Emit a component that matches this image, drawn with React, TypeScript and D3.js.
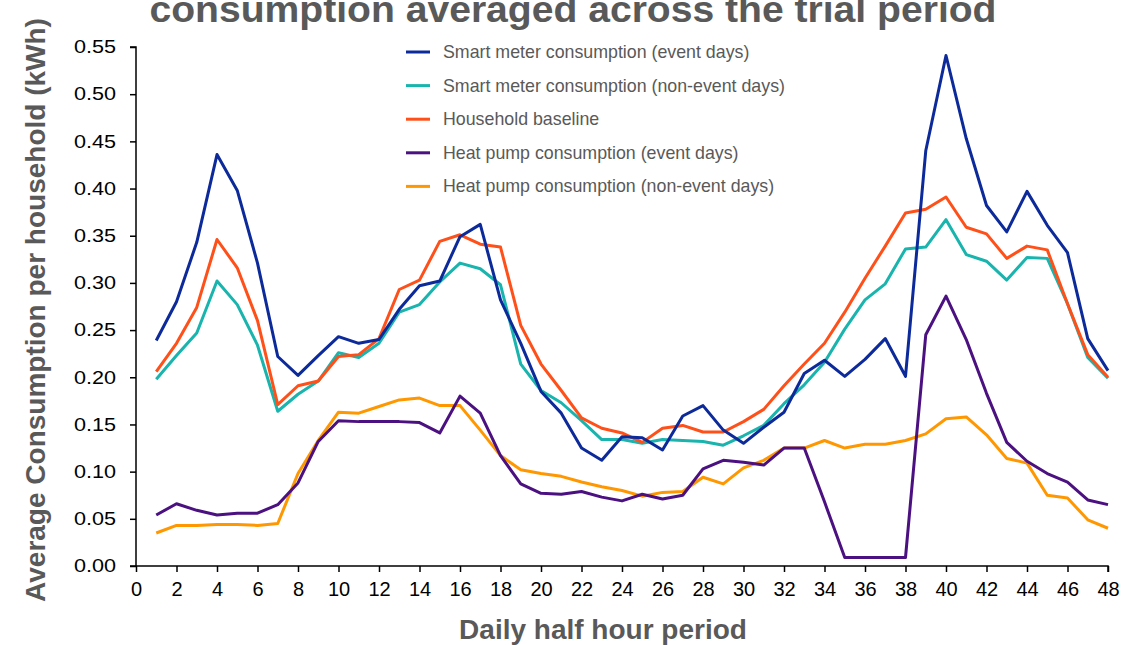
import React, { useEffect, useRef } from "react";
import * as d3 from "d3";

// half hour periods 1..48
const periods = d3.range(1, 49);

const smartEvent = [
  0.239, 0.28, 0.343, 0.436, 0.398, 0.321, 0.222, 0.202, 0.223, 0.243, 0.236, 0.24,
  0.272, 0.297, 0.302, 0.349, 0.362, 0.282, 0.236, 0.185, 0.162, 0.125, 0.112, 0.137,
  0.136, 0.123, 0.159, 0.17, 0.144, 0.13, 0.147, 0.163, 0.204, 0.218, 0.201, 0.219,
  0.241, 0.201, 0.44, 0.541, 0.453, 0.382, 0.354, 0.397, 0.361, 0.332, 0.241, 0.207,
];

const smartNonEvent = [
  0.198, 0.223, 0.247, 0.302, 0.277, 0.234, 0.164, 0.182, 0.196, 0.226, 0.221, 0.236,
  0.269, 0.277, 0.301, 0.321, 0.315, 0.298, 0.214, 0.186, 0.173, 0.154, 0.134, 0.134,
  0.13, 0.134, 0.133, 0.132, 0.128, 0.138, 0.149, 0.172, 0.192, 0.216, 0.251, 0.282,
  0.299, 0.336, 0.338, 0.367, 0.33, 0.323, 0.303, 0.327, 0.326, 0.278, 0.221, 0.199,
];

const householdBaseline = [
  0.206, 0.236, 0.274, 0.346, 0.316, 0.26, 0.171, 0.191, 0.196, 0.222, 0.224, 0.241,
  0.293, 0.303, 0.344, 0.351, 0.341, 0.338, 0.255, 0.214, 0.186, 0.157, 0.146, 0.141,
  0.131, 0.146, 0.149, 0.142, 0.142, 0.153, 0.166, 0.191, 0.214, 0.236, 0.269, 0.305,
  0.339, 0.374, 0.378, 0.391, 0.359, 0.352, 0.326, 0.339, 0.335, 0.278, 0.224, 0.2,
];

const heatPumpEvent = [
  0.054, 0.066, 0.059, 0.054, 0.056, 0.056, 0.065, 0.088, 0.132, 0.154, 0.153, 0.153,
  0.153, 0.152, 0.141, 0.18, 0.162, 0.117, 0.087, 0.077, 0.076, 0.079, 0.073, 0.069,
  0.076, 0.071, 0.075, 0.103, 0.112, 0.11, 0.107, 0.125, 0.125, 0.068, 0.009, 0.009,
  0.009, 0.009, 0.245, 0.286, 0.24, 0.183, 0.131, 0.111, 0.098, 0.089, 0.07, 0.065,
];

const heatPumpNonEvent = [
  0.035, 0.043, 0.043, 0.044, 0.044, 0.043, 0.045, 0.098, 0.133, 0.163, 0.162, 0.169,
  0.176, 0.178, 0.17, 0.17, 0.144, 0.117, 0.102, 0.098, 0.095, 0.089, 0.084, 0.08,
  0.074, 0.078, 0.079, 0.094, 0.087, 0.104, 0.112, 0.125, 0.125, 0.133, 0.125, 0.129,
  0.129, 0.133, 0.14, 0.156, 0.158, 0.139, 0.114, 0.109, 0.075, 0.072, 0.049, 0.04,
];

const seriesNames = [
  "Smart meter consumption (event days)",
  "Smart meter consumption (non-event days)",
  "Household baseline",
  "Heat pump consumption (event days)",
  "Heat pump consumption (non-event days)",
];
const seriesColors = ["#0c2a9a", "#19b4ad", "#ff5019", "#4c1181", "#ff9800"];
const seriesValues = [smartEvent, smartNonEvent, householdBaseline, heatPumpEvent, heatPumpNonEvent];

const xTicks = d3.range(0, 49, 2);
const yTicks = d3.range(0, 12).map((i) => i * 0.05);

// the source image has slightly widened lettering
function stretch(sel: any, factor: number) {
  sel.each(function (this: SVGTextElement) {
    const w = this.getComputedTextLength();
    d3.select(this).attr("textLength", w * factor).attr("lengthAdjust", "spacingAndGlyphs");
  });
}

const App = () => {
  const svgRef = useRef<SVGSVGElement>(null);

  useEffect(() => {
    const width = 1145;
    const height = 645;
    const svg = d3.select(svgRef.current);
    svg.selectAll("*").remove();
    svg.attr("width", width).attr("height", height).style("font-family", "Liberation Sans, Arial, sans-serif");

    const x = d3.scaleLinear().domain([0, 48]).range([136, 1108]);
    const y = d3.scaleLinear().domain([0, 0.55]).range([566, 47]);

    // Title (second line only visible)
    const title = svg
      .append("text")
      .attr("x", 573)
      .attr("y", 22)
      .attr("text-anchor", "middle")
      .style("font-size", "36px")
      .style("font-weight", "bold")
      .style("fill", "#595959")
      .text("consumption averaged across the trial period");
    title.attr("textLength", 847).attr("lengthAdjust", "spacingAndGlyphs");

    // axes
    const xAxis = svg
      .append("g")
      .attr("transform", `translate(0,${y(0)})`)
      .call(d3.axisBottom(x).tickValues(xTicks).tickSize(6).tickPadding(10).tickFormat(d3.format("d")));
    xAxis.select(".domain").attr("d", `M${x(0) - 6},0H${x(48)}V6`).attr("stroke", "#000").attr("stroke-width", 1.5);
    xAxis.selectAll(".tick line").attr("stroke-width", 1.5);
    xAxis.selectAll("text").style("font-size", "20px").style("fill", "#000");

    const yAxis = svg
      .append("g")
      .attr("transform", `translate(${x(0)},0)`)
      .call(d3.axisLeft(y).tickValues(yTicks).tickSize(6).tickPadding(14).tickFormat(d3.format(".2f")));
    yAxis.select(".domain").attr("d", `M-6,${y(0.55)}H0V${y(0)}`).attr("stroke", "#000").attr("stroke-width", 1.5);
    yAxis.selectAll(".tick line").attr("stroke-width", 1.5);
    const yLabels = yAxis.selectAll("text").style("font-size", "18px").style("fill", "#000");
    stretch(yLabels, 1.2);

    // axis titles
    svg
      .append("text")
      .attr("transform", `translate(45,310) rotate(-90)`)
      .attr("text-anchor", "middle")
      .style("font-size", "28px")
      .style("font-weight", "bold")
      .style("fill", "#595959")
      .text("Average Consumption per household (kWh)");

    svg
      .append("text")
      .attr("x", 603)
      .attr("y", 639)
      .attr("text-anchor", "middle")
      .style("font-size", "28px")
      .style("font-weight", "bold")
      .style("fill", "#595959")
      .text("Daily half hour period");

    // lines
    const line = d3
      .line<number>()
      .x((_, i) => x(periods[i]))
      .y((d) => y(d));

    // draw order: heat pump lines under smart meter lines
    const order = [4, 3, 1, 2, 0];
    order.forEach((k) => {
      svg
        .append("path")
        .datum(seriesValues[k])
        .attr("d", line)
        .attr("fill", "none")
        .attr("stroke", seriesColors[k])
        .attr("stroke-width", 3)
        .attr("stroke-linejoin", "round");
    });

    // legend
    const legend = svg.append("g").attr("transform", "translate(406,52)");
    seriesNames.forEach((name, i) => {
      const row = legend.append("g").attr("transform", `translate(0,${i * 33.6})`);
      row
        .append("line")
        .attr("x1", 0)
        .attr("x2", 24)
        .attr("stroke", seriesColors[i])
        .attr("stroke-width", 3);
      row
        .append("text")
        .attr("x", 37)
        .attr("y", 6)
        .style("font-size", "17.8px")
        .style("fill", "#595959")
        .text(name);
    });
  }, []);

  return (
    <div style={{ position: "absolute", left: 0, top: 0 }}>
      <svg ref={svgRef} style={{ display: "block", background: "#fff" }}></svg>
    </div>
  );
};

export default App;
